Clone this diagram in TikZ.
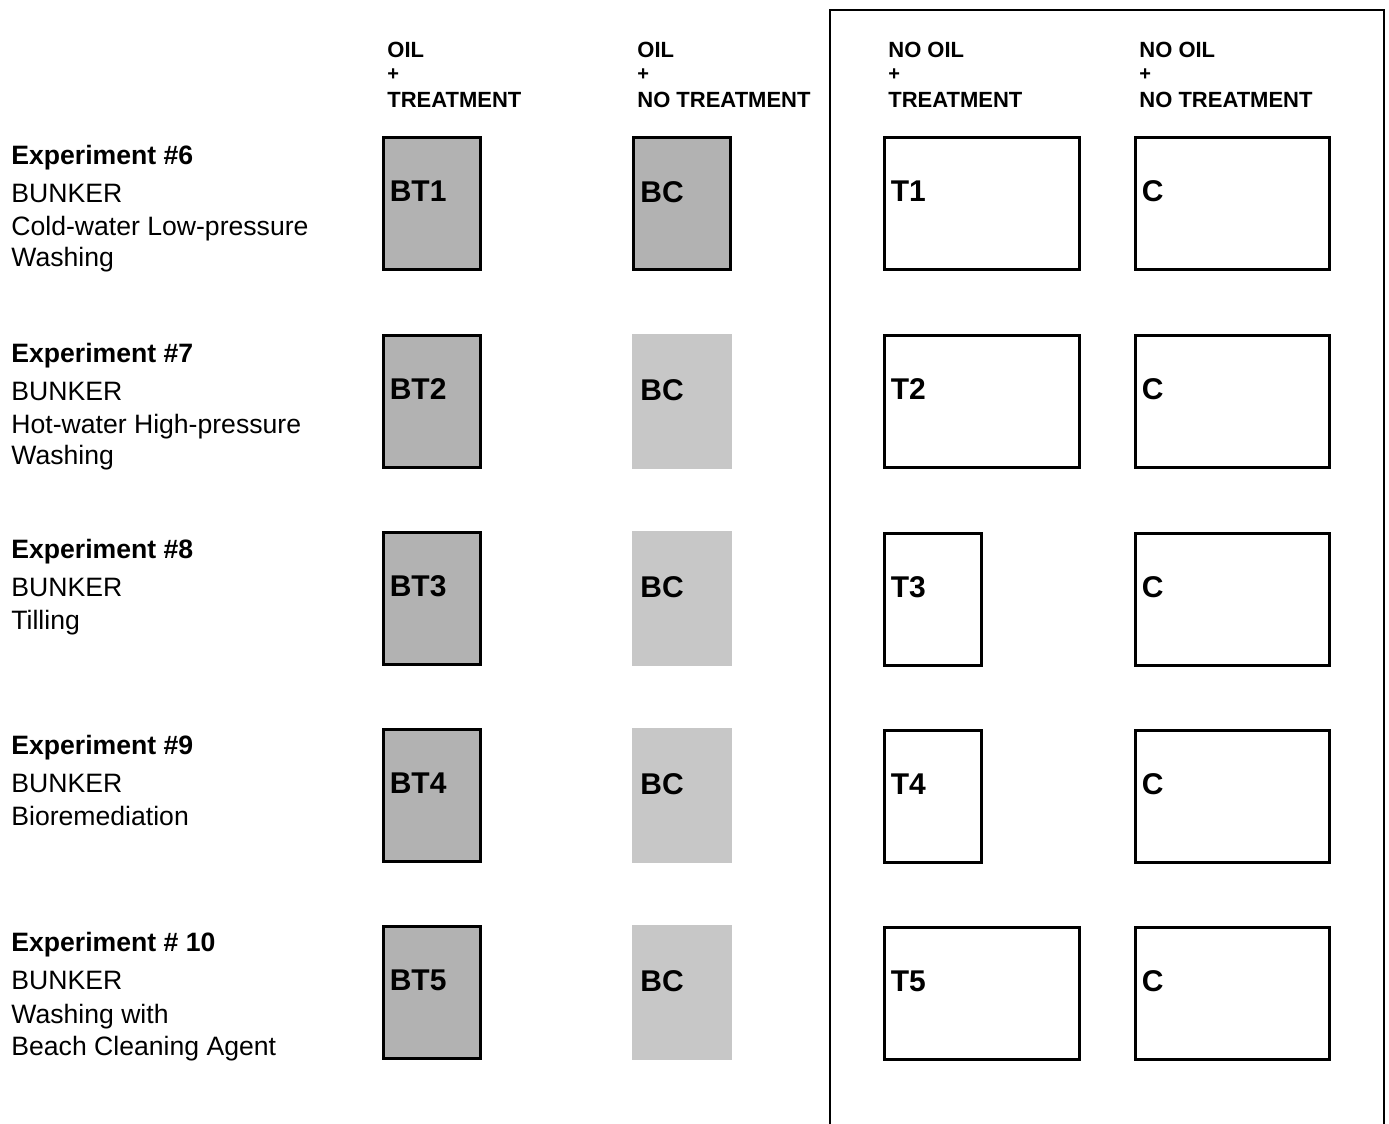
\documentclass[tikz,border=0pt]{standalone}
\usepackage{fontspec}
\setmainfont{Liberation Sans}
\usetikzlibrary{calc}
\begin{document}
\begin{tikzpicture}[x=0.5pt,y=-0.5pt,
  hdr/.style={font=\fontsize{11}{12}\selectfont\bfseries, anchor=base west, inner sep=0pt},
  hplus/.style={font=\fontsize{10}{10}\selectfont\bfseries, anchor=west, inner sep=0pt},
  expt/.style={font=\fontsize{13.3}{15}\selectfont\bfseries, anchor=base west, inner sep=0pt},
  desc/.style={font=\fontsize{13.3}{15}\selectfont, anchor=base west, inner sep=0pt},
  boxlab/.style={font=\fontsize{15}{17}\selectfont\bfseries, anchor=base west, inner sep=0pt},
  plot/.style={anchor=north west, inner sep=0pt, outer sep=0pt},
  lined/.style={plot, draw, line width=1.4pt, xshift=0.7pt, yshift=-0.7pt, minimum height=66.1pt},
  oilbox/.style={lined, fill=black!30, minimum width=48.6pt},
  bcbox/.style={plot, fill=black!22, minimum width=50pt, minimum height=67.5pt},
  wbox/.style={lined, fill=white},
]
\useasboundingbox (0,0) rectangle (1389,1124);
\node[draw, line width=1pt, anchor=north west, inner sep=0pt, minimum width=277pt, minimum height=560pt] (frame) at (829,9) {};

% headers
\node[hdr] (h1a) at (387,57) {OIL};
\node[hplus] (h1b) at (387,75) {+};
\node[hdr] (h1c) at (387,107) {TREATMENT};
\node[hdr] (h2a) at (637,57) {OIL};
\node[hplus] (h2b) at (637,75) {+};
\node[hdr] (h2c) at (637,107) {NO TREATMENT};
\node[hdr] (h3a) at (888,57) {NO OIL};
\node[hplus] (h3b) at (888,75) {+};
\node[hdr] (h3c) at (888,107) {TREATMENT};
\node[hdr] (h4a) at (1139,57) {NO OIL};
\node[hplus] (h4b) at (1139,75) {+};
\node[hdr] (h4c) at (1139,107) {NO TREATMENT};

% experiment labels
\node[expt] (e6a) at (11,164) {Experiment \#6};
\node[desc] (e6b) at (11,202) {BUNKER};
\node[desc] (e6c) at (11,235) {Cold-water Low-pressure};
\node[desc] (e6d) at (11,266) {Washing};

\node[expt] (e7a) at (11,362) {Experiment \#7};
\node[desc] (e7b) at (11,400) {BUNKER};
\node[desc] (e7c) at (11,433) {Hot-water High-pressure};
\node[desc] (e7d) at (11,464) {Washing};

\node[expt] (e8a) at (11,558) {Experiment \#8};
\node[desc] (e8b) at (11,596) {BUNKER};
\node[desc] (e8c) at (11,629) {Tilling};

\node[expt] (e9a) at (11,754) {Experiment \#9};
\node[desc] (e9b) at (11,792) {BUNKER};
\node[desc] (e9c) at (11,825) {Bioremediation};

\node[expt] (e10a) at (11,951) {Experiment \# 10};
\node[desc] (e10b) at (11,989) {BUNKER};
\node[desc] (e10c) at (11,1023) {Washing with};
\node[desc] (e10d) at (11,1055) {Beach Cleaning Agent};

% row 1
\node[oilbox] (bt1) at (382,136) {};
\node[oilbox] (bc1) at (632,136) {};
\node[wbox, minimum width=97.6pt] (t1) at (883,136) {};
\node[wbox, minimum width=97.1pt] (c1) at (1134,136) {};
% row 2
\node[oilbox] (bt2) at (382,334) {};
\node[bcbox] (bc2) at (632,334) {};
\node[wbox, minimum width=97.6pt] (t2) at (883,334) {};
\node[wbox, minimum width=97.1pt] (c2) at (1134,334) {};
% row 3
\node[oilbox] (bt3) at (382,531) {};
\node[bcbox] (bc3) at (632,531) {};
\node[wbox, minimum width=48.6pt] (t3) at (883,532) {};
\node[wbox, minimum width=97.1pt] (c3) at (1134,532) {};
% row 4
\node[oilbox] (bt4) at (382,728) {};
\node[bcbox] (bc4) at (632,728) {};
\node[wbox, minimum width=48.6pt] (t4) at (883,729) {};
\node[wbox, minimum width=97.1pt] (c4) at (1134,729) {};
% row 5
\node[oilbox] (bt5) at (382,925) {};
\node[bcbox] (bc5) at (632,925) {};
\node[wbox, minimum width=97.6pt] (t5) at (883,926) {};
\node[wbox, minimum width=97.1pt] (c5) at (1134,926) {};

% box labels
\foreach \r/\a/\b/\c/\d in {1/BT1/BC/T1/C, 2/BT2/BC/T2/C, 3/BT3/BC/T3/C, 4/BT4/BC/T4/C, 5/BT5/BC/T5/C}{
  \node[boxlab] (lbt\r) at ($(bt\r.north west)+(6,64)$) {\a};
  \node[boxlab] (lbc\r) at ($(bc\r.center)+(-42,-1)$) {\b};
  \node[boxlab] (lt\r) at ($(t\r.north west)+(6,64)$) {\c};
  \node[boxlab] (lc\r) at ($(c\r.north west)+(6,64)$) {\d};
}
\end{tikzpicture}
\end{document}
